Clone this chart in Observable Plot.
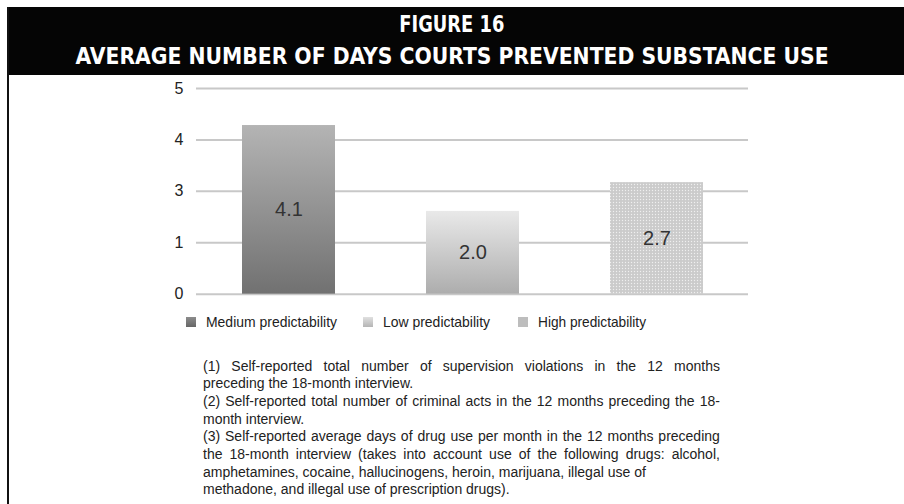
<!DOCTYPE html>
<html>
<head>
<meta charset="utf-8">
<script src="https://cdn.jsdelivr.net/npm/d3@7"></script>
<script src="https://cdn.jsdelivr.net/npm/@observablehq/plot@0.6"></script>
<style>
  html, body { margin: 0; padding: 0; background: #fff; }
  #page { position: relative; width: 904px; height: 504px; overflow: hidden; font-family: "Liberation Sans", Arial, sans-serif; }
  #header { position: absolute; left: 7px; top: 7px; width: 897px; height: 68px; background: #050505; }
  #border { position: absolute; left: 7px; top: 7px; width: 2px; height: 497px; background: #111; }
  .title { position: absolute; left: 0; width: 904px; text-align: center; color: #fff; font-family: "DejaVu Sans", sans-serif; font-weight: bold; font-stretch: condensed; white-space: nowrap; }
  .title span { display: inline-block; transform-origin: center; }
  #chart { position: absolute; left: 0; top: 75px; }
  .item { position: absolute; top: 313px; display: flex; align-items: center; font-size: 15px; color: #222; white-space: nowrap; }
  .item span { display: inline-block; transform-origin: left center; }
  .sw { width: 10px; height: 10px; margin-right: 10px; }
  #notes { position: absolute; left: 203px; top: 357.5px; width: 517px; font-size: 14px; line-height: 17.7px; color: #222; }
  #notes > div { white-space: nowrap; }
  #notes > div.j { display: flex; justify-content: space-between; }
</style>
</head>
<body>
<div id="page">
  <div id="header"></div>
  <div id="border"></div>
  <div class="title" id="t1" style="top: 11px; font-size: 23px; line-height: 26px;"><span>FIGURE 16</span></div>
  <div class="title" id="t2" style="top: 43px; font-size: 23px; line-height: 26px;"><span>AVERAGE NUMBER OF DAYS COURTS PREVENTED SUBSTANCE USE</span></div>
  <div id="chart"></div>
  <div id="notes">
    <div class="j">(1) Self-reported total number of supervision violations in the 12 months</div>
    <div>preceding the 18-month interview.</div>
    <div class="j">(2) Self-reported total number of criminal acts in the 12 months preceding the 18-</div>
    <div>month interview.</div>
    <div class="j">(3) Self-reported average days of drug use per month in the 12 months preceding</div>
    <div class="j">the 18-month interview (takes into account use of the following drugs: alcohol,</div>
    <div>amphetamines, cocaine, hallucinogens, heroin, marijuana, illegal use of</div>
    <div>methadone, and illegal use of prescription drugs).</div>
  </div>
</div>
<script>
// Data
const categories = ["Medium predictability", "Low predictability", "High predictability"];
const valueLabels = ["4.1", "2.0", "2.7"];
// bar tops as drawn, in units of the (evenly spaced) axis positions
const barHeights = [3.28, 1.61, 2.17];
// the axis prints these labels at evenly spaced positions
const yTickPositions = [0, 1, 2, 3, 4];
const yTickLabels = ["0", "1", "3", "4", "5"];

const fills = ["url(#gMed)", "url(#gLow)", "url(#pHigh)"];
const swatches = [
  "linear-gradient(#8c8c8c, #666)",
  "linear-gradient(#e0e0e0, #b5b5b5)",
  "#bdbdbd"
];
const legendLefts = [186, 363, 518];
const legendTextWidths = [131, 107, 108];

const data = categories.map((c, i) => ({cat: c, h: barHeights[i], label: valueLabels[i], fill: fills[i]}));

const chart = Plot.plot({
  width: 904,
  height: 230,
  marginTop: 13,
  marginBottom: 11.3,
  marginLeft: 196,
  marginRight: 156,
  style: {fontFamily: "'Liberation Sans', Arial, sans-serif", fontSize: "16px", color: "#222", background: "transparent"},
  x: {domain: categories, paddingInner: 0.495, paddingOuter: 0.2475, axis: null},
  y: {domain: [0, 4], axis: null},
  marks: [
    Plot.ruleY(yTickPositions, {stroke: "#c8c8c8", strokeWidth: 2}),
    Plot.axisY(yTickPositions, {tickSize: 0, tickPadding: 13, tickFormat: d => yTickLabels[d], fontSize: 16, fill: "#222", label: null}),
    Plot.barY(data, {x: "cat", y: "h", fill: d => d.fill}),
    Plot.text(data, {x: "cat", y: d => d.h / 2, text: "label", fontSize: 20, fill: "#333"})
  ]
});

// Gradient and dot pattern definitions used as bar fills
const ns = "http://www.w3.org/2000/svg";
const defs = document.createElementNS(ns, "defs");
defs.innerHTML = `
  <linearGradient id="gMed" x1="0" y1="0" x2="0" y2="1">
    <stop offset="0" stop-color="#b4b4b4"/><stop offset="1" stop-color="#717171"/>
  </linearGradient>
  <linearGradient id="gLow" x1="0" y1="0" x2="0" y2="1">
    <stop offset="0" stop-color="#e9e9e9"/><stop offset="1" stop-color="#adadad"/>
  </linearGradient>
  <pattern id="pHigh" patternUnits="userSpaceOnUse" width="3" height="3">
    <rect width="3" height="3" fill="#cbcbcb"/>
    <circle cx="1.5" cy="1.5" r="0.7" fill="#efefef"/>
  </pattern>`;
chart.insertBefore(defs, chart.firstChild);
document.getElementById("chart").appendChild(chart);

// Legend
const page = document.getElementById("page");
categories.forEach((c, i) => {
  const item = document.createElement("div");
  item.className = "item";
  item.style.left = legendLefts[i] + "px";
  item.innerHTML = `<div class="sw" style="background:${swatches[i]}"></div><span>${c}</span>`;
  page.appendChild(item);
  const span = item.querySelector("span");
  const w = span.getBoundingClientRect().width;
  span.style.transform = `scaleX(${legendTextWidths[i] / w})`;
});

// Justified footnote lines: spread words across the full width
document.querySelectorAll("#notes > div.j").forEach(div => {
  const words = div.textContent.trim().split(/\s+/);
  div.innerHTML = words.map(w => `<span>${w}</span>`).join("");
});

// Fit title widths
function fit(id, w) {
  const s = document.querySelector("#" + id + " span");
  const r = s.getBoundingClientRect().width;
  s.style.transform = `scaleX(${w / r})`;
}
fit("t1", 105);
fit("t2", 753);
</script>
</body>
</html>
